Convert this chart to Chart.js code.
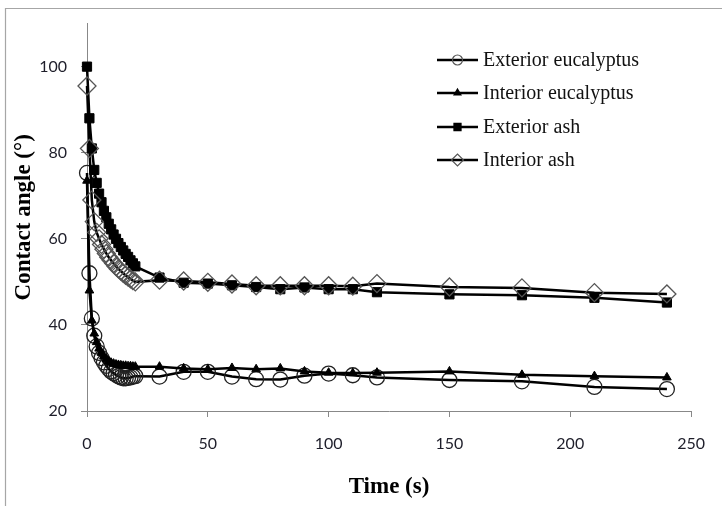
<!DOCTYPE html>
<html>
<head>
<meta charset="utf-8">
<script src="https://cdn.jsdelivr.net/npm/chart.js@4/dist/chart.umd.min.js"></script>
<style>
  html, body { margin: 0; padding: 0; background: #fff; }
  #wrap { width: 722px; height: 506px; }
</style>
</head>
<body>
<div id="wrap"><canvas id="c" width="722" height="506"></canvas></div>
<script>
// ---- data ----
const times = [0,1,2,3,4,5,6,7,8,9,10,11,12,13,14,15,16,17,18,19,20,30,40,50,60,70,80,90,100,110,120,150,180,210,240];
const exteriorEucalyptus = [75.3,52,41.5,37.5,35,33.5,32.3,31.3,30.5,29.8,29.2,28.8,28.4,28.1,27.8,27.6,27.6,27.7,27.8,28.0,28.1,28.0,29.1,29.1,28.0,27.4,27.3,28.2,28.7,28.3,27.8,27.2,26.9,25.6,25.1];
const interiorEucalyptus = [73.5,48,41,38,36,34.5,33.5,32.7,32,31.5,31.2,31,30.8,30.7,30.6,30.5,30.5,30.4,30.4,30.3,30.3,30.3,29.9,29.7,30.0,29.7,29.9,29.2,28.9,28.8,28.9,29.2,28.4,28.1,27.8];
const exteriorAsh = [100,88,81,76,73,70.5,68.5,66.5,65,63.5,62.2,61,60,59,58.1,57.3,56.5,55.8,55,54.3,53.6,51,49.8,49.6,49.2,48.8,48.3,48.7,48.3,48.3,47.6,47.1,46.9,46.3,45.2];
const interiorAsh = [95.5,81,69,64,61.5,60,58.7,57.6,56.6,55.7,55,54.3,53.6,53,52.5,52,51.5,51.1,50.7,50.3,50,50.4,50.2,49.9,49.5,49.1,49.1,49.1,49.1,49,49.6,48.8,48.6,47.5,47.2];
const seriesNames = ["Exterior eucalyptus","Interior eucalyptus","Exterior ash","Interior ash"];
const xTicks = [0,50,100,150,200,250];
const yTicks = [20,40,60,80,100];

const pts = v => times.map((t,i)=>({x:t,y:v[i]}));

const styles = [
  {pointStyle:'circle', radius:7.5, fill:'rgba(0,0,0,0)', stroke:'#222', bw:1.3, lr:5, lfill:'rgba(0,0,0,0)', lstroke:'#555'},
  {pointStyle:'triangle', radius:5, fill:'#000', stroke:'#000', bw:1, lr:4, lfill:'#000', lstroke:'#000'},
  {pointStyle:'rect', radius:6.5, fill:'#000', stroke:'#000', bw:1, lr:5, lfill:'#000', lstroke:'#000'},
  {pointStyle:'rectRot', radius:9, fill:'rgba(0,0,0,0)', stroke:'#555', bw:1.3, lr:6, lfill:'rgba(0,0,0,0)', lstroke:'#555'}
];
const values = [exteriorEucalyptus, interiorEucalyptus, exteriorAsh, interiorAsh];

const datasets = values.map((v,i)=>({
  label: seriesNames[i],
  data: pts(v),
  borderColor:'#000',
  borderWidth:2.5,
  tension:0,
  pointStyle: styles[i].pointStyle,
  pointRadius: styles[i].radius,
  pointHoverRadius: styles[i].radius,
  pointBackgroundColor: styles[i].fill,
  pointBorderColor: styles[i].stroke,
  pointBorderWidth: styles[i].bw,
  clip:false,
  order: 4-i
}));

function drawMarker(ctx, style, x, y, r, fill, stroke, bw){
  ctx.save();
  ctx.fillStyle = fill; ctx.strokeStyle = stroke; ctx.lineWidth = bw;
  ctx.beginPath();
  if (style==='circle'){ ctx.arc(x,y,r,0,Math.PI*2); }
  else if (style==='triangle'){
    ctx.moveTo(x, y-r); ctx.lineTo(x+r*0.866, y+r*0.5); ctx.lineTo(x-r*0.866, y+r*0.5); ctx.closePath();
  } else if (style==='rect'){
    const s = r*0.7071; ctx.rect(x-s,y-s,2*s,2*s);
  } else if (style==='rectRot'){
    ctx.moveTo(x-r,y); ctx.lineTo(x,y-r); ctx.lineTo(x+r,y); ctx.lineTo(x,y+r); ctx.closePath();
  }
  ctx.fill(); ctx.stroke();
  ctx.restore();
}

const framePlugin = {
  id:'frame',
  beforeDraw(chart){
    const ctx = chart.ctx;
    ctx.save();
    ctx.fillStyle='#fff'; ctx.fillRect(0,0,chart.width,chart.height);
    ctx.strokeStyle='#a6a6a6'; ctx.lineWidth=1.2;
    ctx.beginPath();
    ctx.moveTo(5.5, chart.height); ctx.lineTo(5.5, 8.5); ctx.lineTo(chart.width, 8.5);
    ctx.stroke();
    ctx.restore();
  }
};

const legendPlugin = {
  id:'customLegend',
  afterDraw(chart){
    const ctx = chart.ctx;
    const x0 = 437, x1 = 478, tx = 483;
    const rows = [60, 93, 127, 160];
    ctx.save();
    seriesNames.forEach((name,i)=>{
      const y = rows[i];
      ctx.strokeStyle='#000'; ctx.lineWidth=2.5;
      ctx.beginPath(); ctx.moveTo(x0,y); ctx.lineTo(x1,y); ctx.stroke();
      const s = styles[i];
      drawMarker(ctx, s.pointStyle, (x0+x1)/2, y, s.lr, s.lfill, s.lstroke, 1.2);
      ctx.fillStyle='#111';
      ctx.font='20px "Liberation Serif", serif';
      ctx.textBaseline='middle'; ctx.textAlign='left';
      ctx.fillText(name, tx, y+1);
    });
    ctx.restore();
  }
};

new Chart(document.getElementById('c'), {
  type:'line',
  data:{ datasets },
  options:{
    responsive:false,
    devicePixelRatio:1,
    animation:false,
    events:[],
    layout:{ padding:{ left:0, top:22, right:22, bottom:0 } },
    plugins:{ legend:{display:false}, tooltip:{enabled:false} },
    scales:{
      x:{
        type:'linear', min:0, max:250,
        afterBuildTicks: s => { s.ticks = xTicks.map(v=>({value:v})); },
        afterFit: s => { s.height = 95; },
        grid:{ drawOnChartArea:false, drawTicks:true, tickLength:6, color:'#888', lineWidth:1 },
        border:{ color:'#888', width:1 },
        ticks:{ font:{family:'Lato', size:16}, color:'#1e1e2a', padding:17, maxRotation:0 },
        title:{ display:true, text:'Time (s)', font:{family:'"Liberation Serif"', size:23, weight:'bold'}, color:'#000', padding:{top:0,bottom:5} }
      },
      y:{
        type:'linear', min:20, max:110,
        afterBuildTicks: s => { s.ticks = yTicks.map(v=>({value:v})); },
        afterFit: s => { s.width = 87; },
        grid:{ drawOnChartArea:false, drawTicks:true, tickLength:6, color:'#888', lineWidth:1 },
        border:{ color:'#888', width:1 },
        ticks:{ font:{family:'Lato', size:16}, color:'#1e1e2a', padding:14 },
        title:{ display:true, text:'Contact angle (°)', font:{family:'"Liberation Serif"', size:23, weight:'bold'}, color:'#000', padding:{top:10,bottom:0} }
      }
    }
  },
  plugins:[framePlugin, legendPlugin]
});
</script>
</body>
</html>
